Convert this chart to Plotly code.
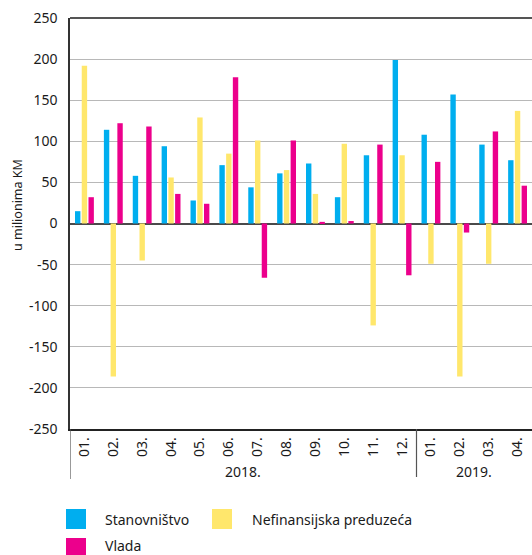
import plotly.graph_objects as go

years = ["2018.", "2019."]
year_months = [12, 4]
months = ["01.", "02.", "03.", "04.", "05.", "06.", "07.", "08.", "09.", "10.", "11.", "12.",
          "01.", "02.", "03.", "04."]

stanovnistvo = [15, 114, 58, 94, 28, 71, 44, 61, 73, 32, 83, 199, 108, 157, 96, 77]
nefinansijska = [192, -186, -45, 56, 129, 85, 101, 65, 36, 97, -124, 83, -49, -186, -49, 137]
vlada = [32, 122, 118, 36, 24, 178, -66, 101, 2, 3, 96, -63, 75, -11, 112, 46]

series_names = ["Stanovništvo", "Nefinansijska preduzeća", "Vlada"]
series_colors = ["#00AEEF", "#FFE76C", "#EC008C"]
y_ticks = [250, 200, 150, 100, 50, 0, -50, -100, -150, -200, -250]

W, H = 532, 555
L, R, T, B = 70, 0, 18, 126
PW, PH = W - L - R, H - T - B

def px(x):
    return (x - L) / PW

def py(y):
    return (H - B - y) / PH

FONT = "Noto Sans"
idx = list(range(len(months)))

fig = go.Figure()
for name, vals, col in zip(series_names, [stanovnistvo, nefinansijska, vlada], series_colors):
    fig.add_trace(go.Bar(x=idx, y=vals, name=name, marker_color=col,
                         marker_line_width=0, showlegend=False))

fig.update_layout(
    width=W, height=H,
    margin=dict(l=L, r=R, t=T, b=B, pad=0),
    paper_bgcolor="white", plot_bgcolor="white",
    barmode="group", bargap=0.3, bargroupgap=0.2,
    font=dict(family=FONT, size=14, color="#1a1a1a"),
)

fig.update_yaxes(
    range=[-250, 250], tickvals=y_ticks, ticktext=[str(v) for v in y_ticks],
    showgrid=True, gridcolor="#b8b8b8", gridwidth=1.2,
    zeroline=True, zerolinecolor="#4a4a4a", zerolinewidth=1.5,
    showline=True, linecolor="#333333", linewidth=1.5,
    ticks="", ticklabelstandoff=8, automargin=False,
    tickfont=dict(size=14),
)
fig.update_xaxes(
    range=[-0.5, len(months) - 0.5], tickvals=idx, ticktext=months,
    showline=True, linecolor="#222222", linewidth=1.5,
    tickangle=-90, tickfont=dict(size=14), ticklabelstandoff=1,
    showgrid=False, zeroline=False, ticks="", automargin=False,
)

# y-axis title
fig.add_annotation(xref="paper", yref="paper", x=px(17), y=py(205), text="u milionima KM",
                   textangle=-90, showarrow=False, xanchor="center", yanchor="middle",
                   font=dict(size=12.5, family=FONT, color="#1a1a1a"))

# top border
fig.add_shape(type="line", xref="paper", yref="paper", x0=0, x1=1, y0=1, y1=1,
              line=dict(color="#555555", width=2))

# year group labels and dividers
start = 0
for yr, n in zip(years, year_months):
    fig.add_annotation(xref="x", yref="paper", x=start + (n - 1) / 2, y=py(471), text=yr,
                       showarrow=False, xanchor="center", yanchor="middle",
                       font=dict(size=14, family=FONT, color="#1a1a1a"))
    fig.add_shape(type="line", xref="x", yref="paper", x0=start - 0.5, x1=start - 0.5,
                  y0=py(429), y1=py(479 if start == 0 else 477),
                  line=dict(color="#555555", width=1.2))
    start += n

# legend drawn manually
legend_items = [(66, 509, 103, 519), (212, 509, 250, 519), (66, 538, 103, 545)]
for (sx, sy, tx, ty), name, col in zip(legend_items, series_names, series_colors):
    fig.add_shape(type="rect", xref="paper", yref="paper",
                  x0=px(sx), x1=px(sx + 20), y0=py(sy), y1=py(sy + 20),
                  fillcolor=col, line_width=0)
    fig.add_annotation(xref="paper", yref="paper", x=px(tx), y=py(ty),
                       text=name, showarrow=False, xanchor="left", yanchor="middle",
                       font=dict(size=14, family=FONT, color="#1a1a1a"))

fig.write_html("out.html", config={"displayModeBar": False},
               post_script="document.body.style.margin='0';document.body.style.overflow='hidden';")
